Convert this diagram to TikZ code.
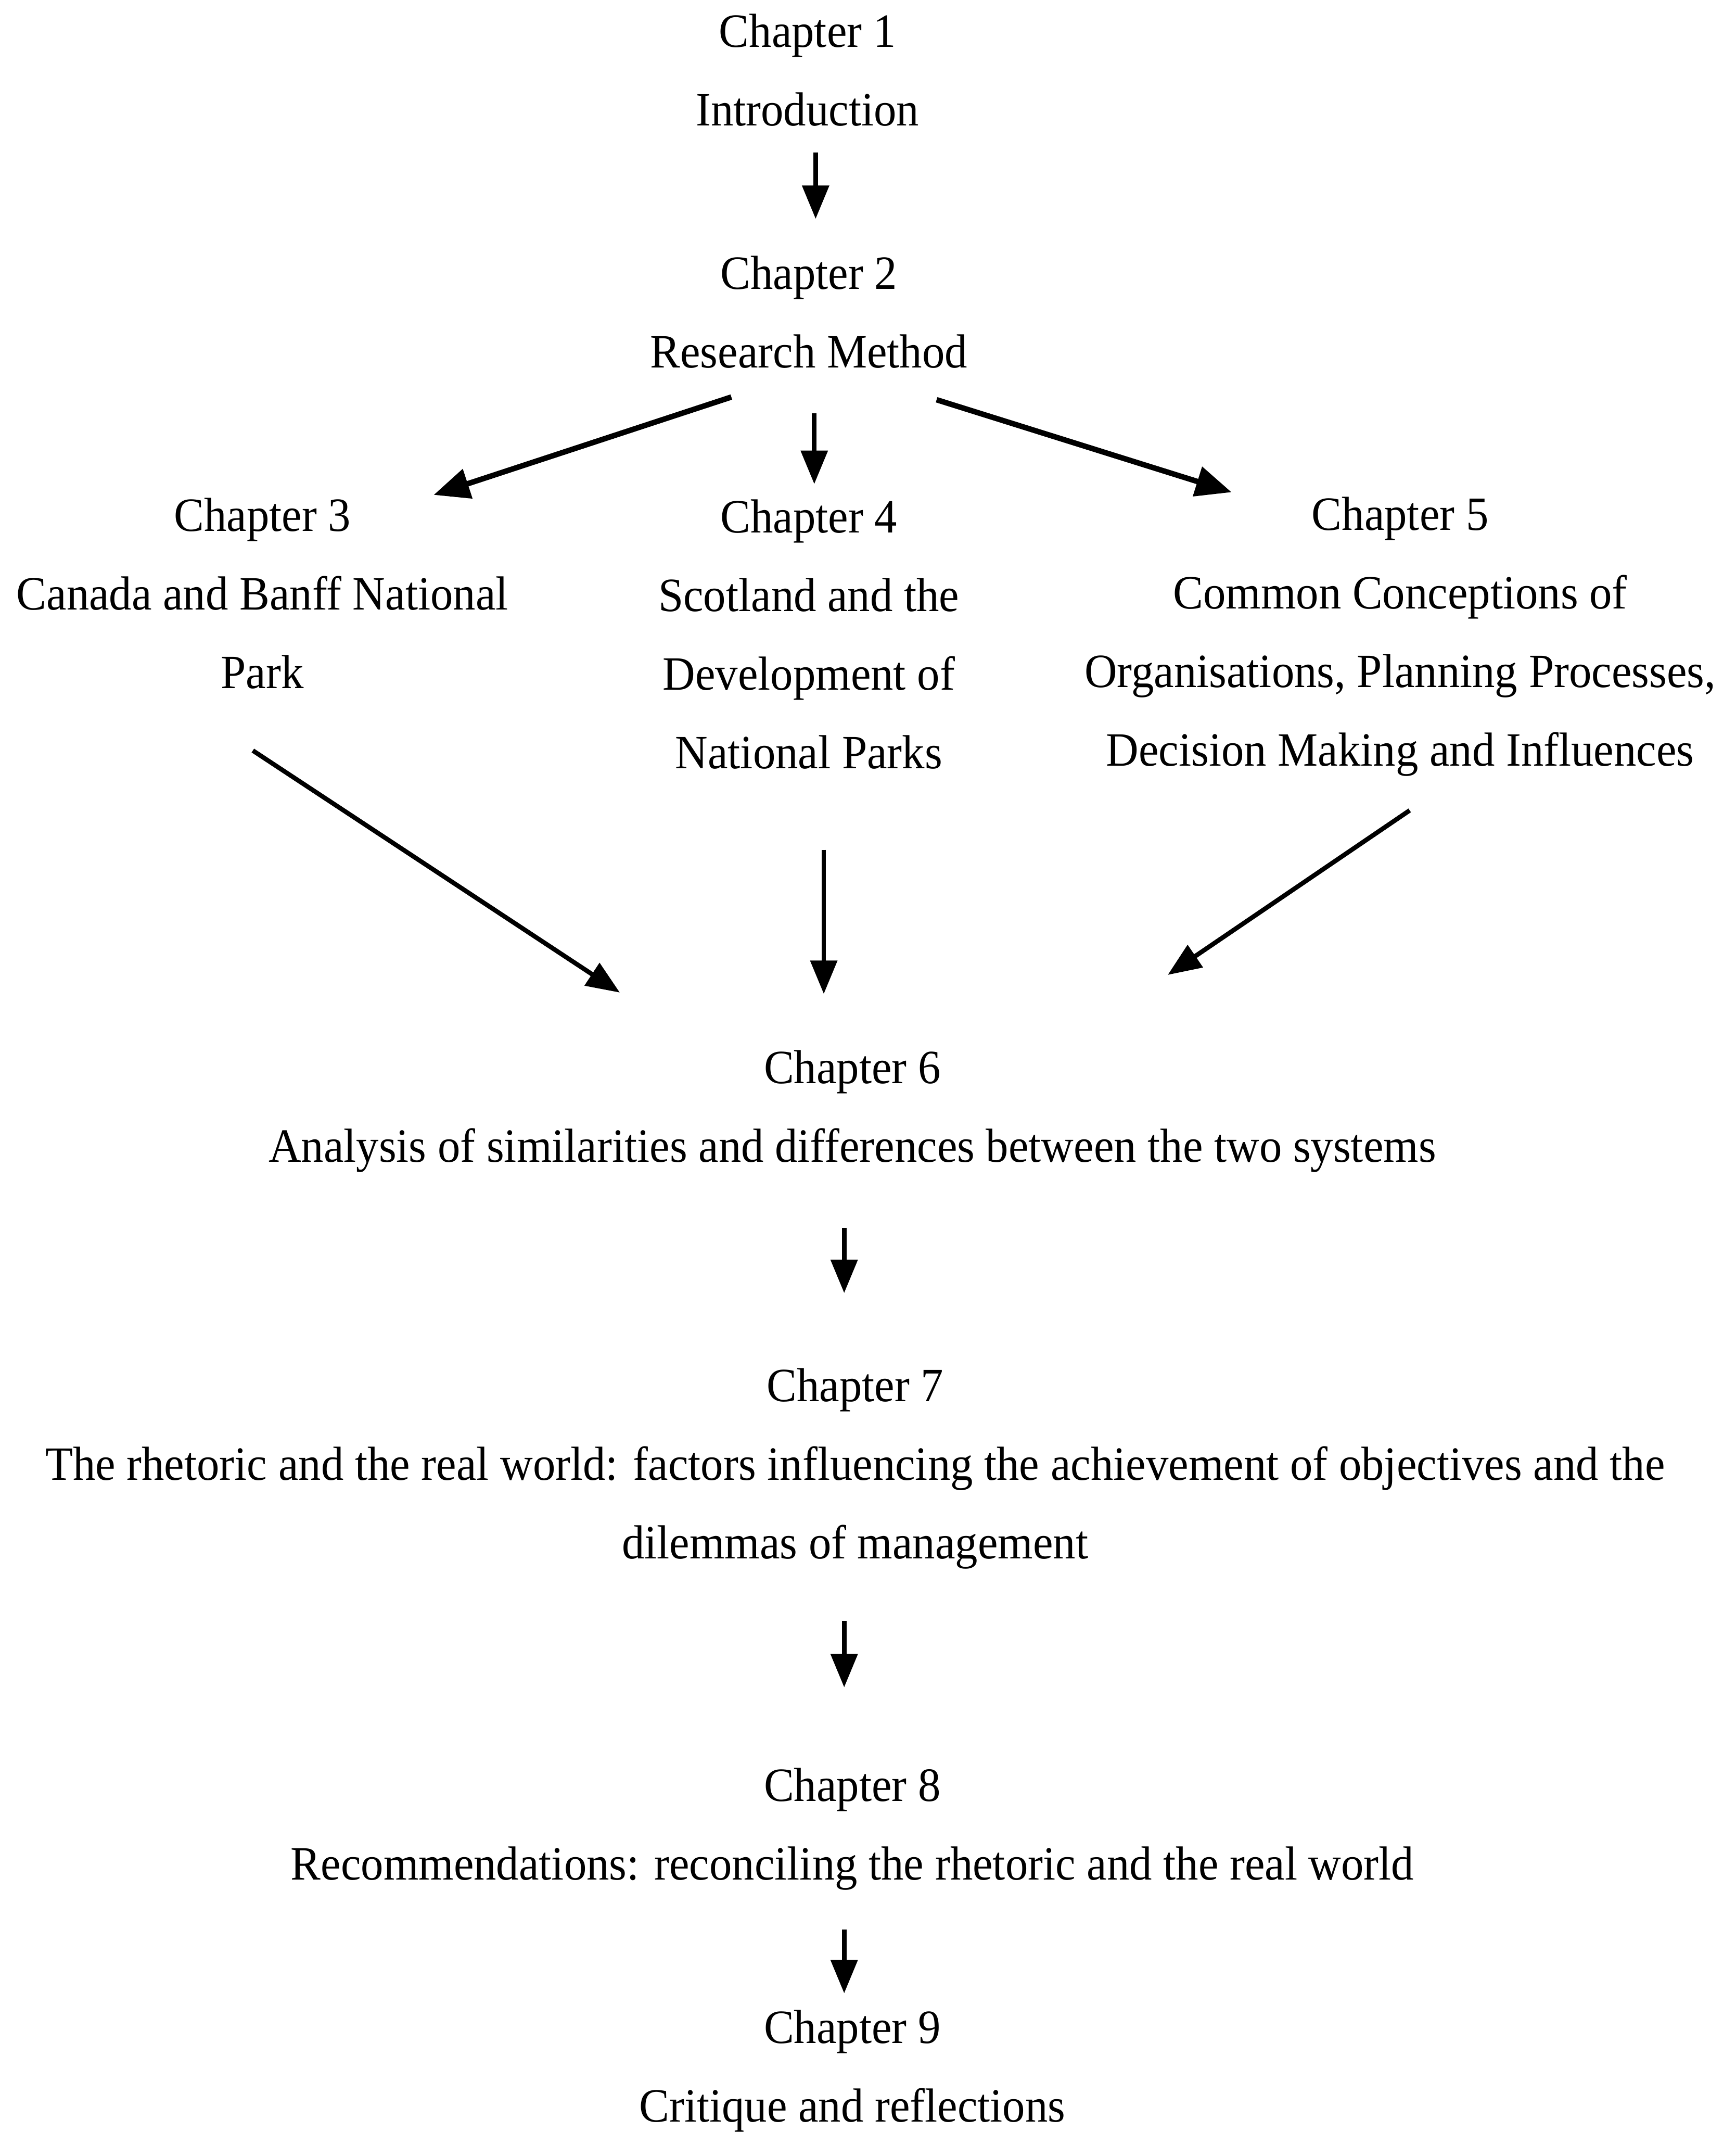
\documentclass[tikz,border=0pt]{standalone}
\usepackage{fontspec}
\setmainfont[FakeStretch=0.945]{Liberation Serif}
\usetikzlibrary{arrows.meta}
\begin{document}
\begin{tikzpicture}[x=0.02cm,y=-0.02cm,
  chap/.style={anchor=north,inner sep=0pt,align=center,
    font=\fontsize{20}{32.9}\selectfont,execute at begin node=\strut},
  arr/.style={line width=1.9pt,-{Triangle[length=14pt,width=11pt]}},
  darr/.style={line width=2.3pt,-{Triangle[length=15pt,width=12.5pt]}}]
\useasboundingbox (0,0) rectangle (1277,1568);
\node[chap] (c1) at (594,10) {Chapter 1\\Introduction};
\node[chap] (c2) at (595,188) {Chapter 2\\Research Method};
\node[chap] (c3) at (193,366) {Chapter 3\\Canada and Banff National\\Park};
\node[chap] (c4) at (595,367) {Chapter 4\\Scotland and the\\Development of\\National Parks};
\node[chap] (c5) at (1030,365) {Chapter 5\\Common Conceptions of\\Organisations, Planning Processes,\\Decision Making and Influences};
\node[chap] (c6) at (627,772) {Chapter 6\\Analysis of similarities and differences between the two systems};
\node[chap] (c7) at (629,1006) {Chapter 7\\The rhetoric and the real world: factors influencing the achievement of objectives and the\\dilemmas of management};
\node[chap] (c8) at (627,1300) {Chapter 8\\Recommendations: reconciling the rhetoric and the real world};
\node[chap] (c9) at (627,1478) {Chapter 9\\Critique and reflections};
% arrow end points
\coordinate (a12s) at (600,112);
\coordinate (a12e) at (600,161);
\coordinate (a23s) at (538,292);
\coordinate (a23e) at (319,364);
\coordinate (a24s) at (599,304);
\coordinate (a24e) at (599,356);
\coordinate (a25s) at (689,294);
\coordinate (a25e) at (906,362);
\coordinate (a36s) at (186,552);
\coordinate (a36e) at (456,730);
\coordinate (a46s) at (606,625);
\coordinate (a46e) at (606,731);
\coordinate (a56s) at (1037,596);
\coordinate (a56e) at (859,717);
\coordinate (a67s) at (621,903);
\coordinate (a67e) at (621,951);
\coordinate (a78s) at (621,1192);
\coordinate (a78e) at (621,1241);
\coordinate (a89s) at (621,1419);
\coordinate (a89e) at (621,1466);
\draw[arr] (a12s) -- (a12e);
\draw[darr] (a23s) -- (a23e);
\draw[arr] (a24s) -- (a24e);
\draw[darr] (a25s) -- (a25e);
\draw[arr] (a36s) -- (a36e);
\draw[arr] (a46s) -- (a46e);
\draw[arr] (a56s) -- (a56e);
\draw[arr] (a67s) -- (a67e);
\draw[arr] (a78s) -- (a78e);
\draw[arr] (a89s) -- (a89e);
\end{tikzpicture}
\end{document}
